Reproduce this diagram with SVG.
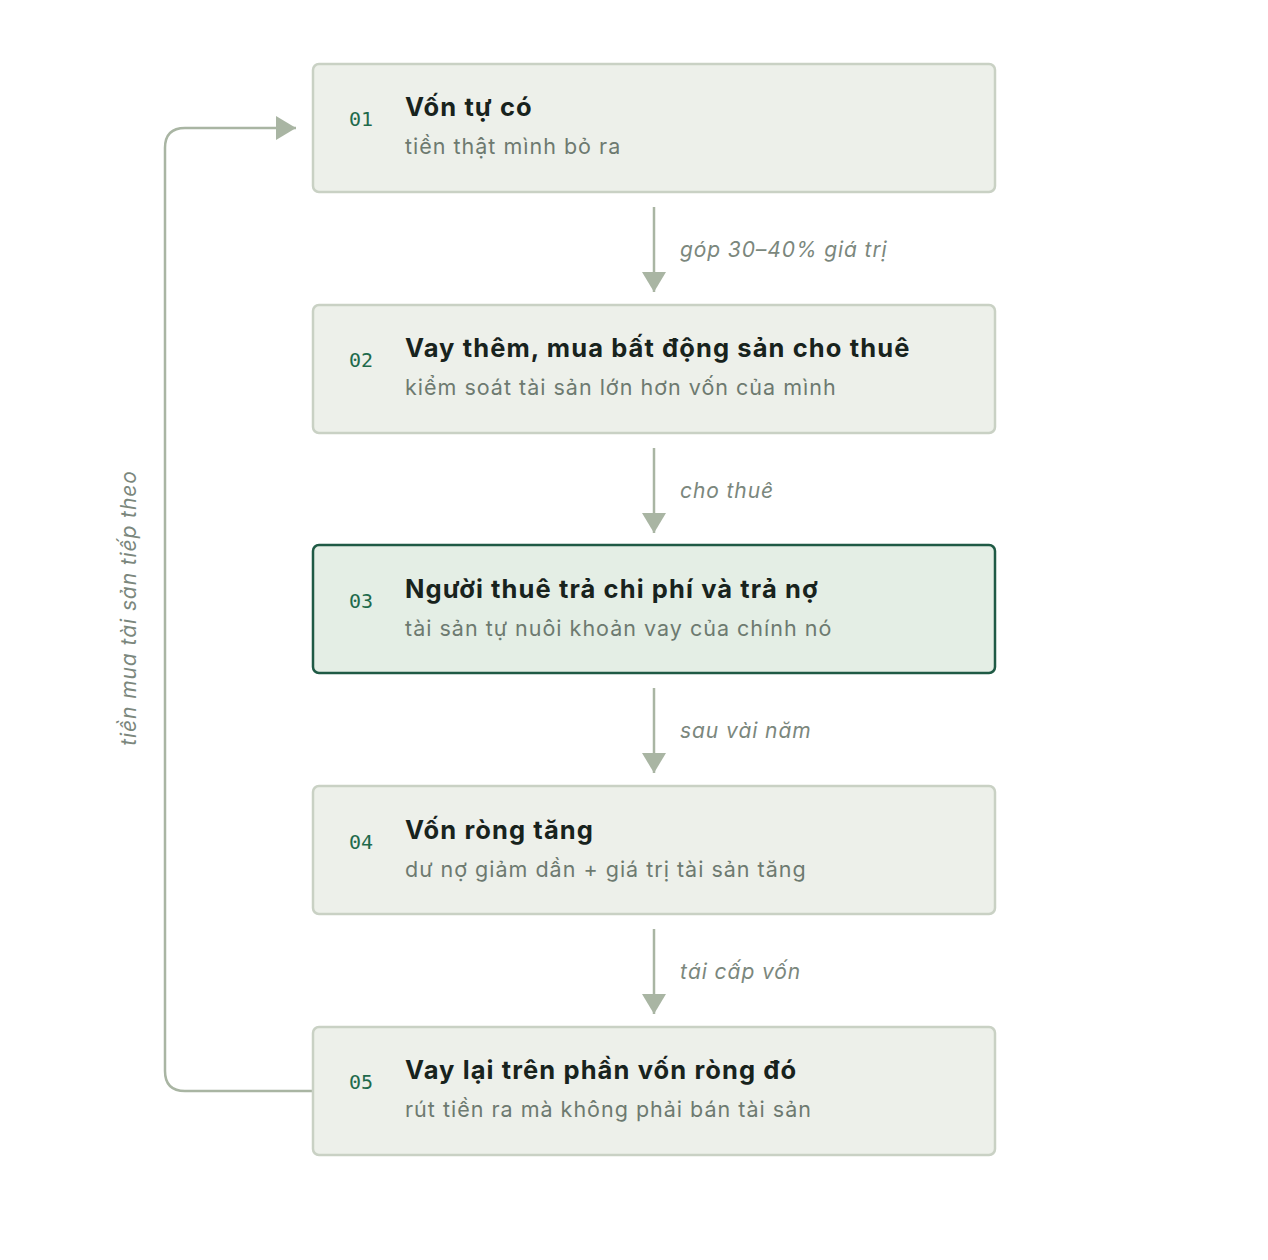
<svg xmlns="http://www.w3.org/2000/svg" width="1268" height="1260" viewBox="0 0 1268 1260">
<defs>
<marker id="ah" viewBox="0 0 20 24" markerWidth="20" markerHeight="24" refX="20" refY="12" orient="auto" markerUnits="userSpaceOnUse"><path d="M0,0 L20,12 L0,24 Z" fill="#a9b5a3"/></marker>
<style>
.box{fill:#edf0ea;stroke:#c9d1c4;stroke-width:2.5}
.hl{fill:#e4eee5;stroke:#1f5a45;stroke-width:2.5}
.num{font-family:"DejaVu Sans Mono","Liberation Mono",monospace;font-size:20px;fill:#1f6a4c}
.t{font-family:Inter,"Noto Sans",sans-serif;font-size:25.5px;font-weight:700;fill:#18231d;letter-spacing:1.1px}
.s{font-family:Inter,"Noto Sans",sans-serif;font-size:21.5px;fill:#6d7a70;letter-spacing:1px}
.lbl{font-family:Inter,"Noto Sans",sans-serif;font-size:21px;font-style:italic;fill:#7b877d;letter-spacing:0.9px}
.c{fill:none;stroke:#a9b5a3;stroke-width:2.5}
</style>
</defs>
<rect width="1268" height="1260" fill="#ffffff"/>
<g id="connectors">
<line class="c" x1="654" y1="207" x2="654" y2="292" marker-end="url(#ah)"/>
<line class="c" x1="654" y1="448" x2="654" y2="533" marker-end="url(#ah)"/>
<line class="c" x1="654" y1="688" x2="654" y2="773" marker-end="url(#ah)"/>
<line class="c" x1="654" y1="929" x2="654" y2="1014" marker-end="url(#ah)"/>
<path class="c" d="M313,1091 L185,1091 Q165,1091 165,1071 L165,148 Q165,128 185,128 L296,128" marker-end="url(#ah)"/>
<text class="lbl" x="680" y="257">góp 30–40% giá trị</text>
<text class="lbl" x="680" y="498">cho thuê</text>
<text class="lbl" x="680" y="738">sau vài năm</text>
<text class="lbl" x="680" y="979">tái cấp vốn</text>
<text class="lbl" transform="translate(136,608) rotate(-90)" text-anchor="middle">tiền mua tài sản tiếp theo</text>
</g>
<g id="n1"><rect class="box" x="313" y="64" width="682" height="128" rx="6"/><text class="num" x="349" y="126">01</text><text class="t" x="405" y="116">Vốn tự có</text><text class="s" x="405" y="154">tiền thật mình bỏ ra</text></g>
<g id="n2"><rect class="box" x="313" y="305" width="682" height="128" rx="6"/><text class="num" x="349" y="367">02</text><text class="t" x="405" y="357">Vay thêm, mua bất động sản cho thuê</text><text class="s" x="405" y="395">kiểm soát tài sản lớn hơn vốn của mình</text></g>
<g id="n3"><rect class="hl" x="313" y="545" width="682" height="128" rx="6"/><text class="num" x="349" y="608">03</text><text class="t" x="405" y="598">Người thuê trả chi phí và trả nợ</text><text class="s" x="405" y="636">tài sản tự nuôi khoản vay của chính nó</text></g>
<g id="n4"><rect class="box" x="313" y="786" width="682" height="128" rx="6"/><text class="num" x="349" y="849">04</text><text class="t" x="405" y="839">Vốn ròng tăng</text><text class="s" x="405" y="877">dư nợ giảm dần + giá trị tài sản tăng</text></g>
<g id="n5"><rect class="box" x="313" y="1027" width="682" height="128" rx="6"/><text class="num" x="349" y="1089">05</text><text class="t" x="405" y="1079">Vay lại trên phần vốn ròng đó</text><text class="s" x="405" y="1117">rút tiền ra mà không phải bán tài sản</text></g>
</svg>
